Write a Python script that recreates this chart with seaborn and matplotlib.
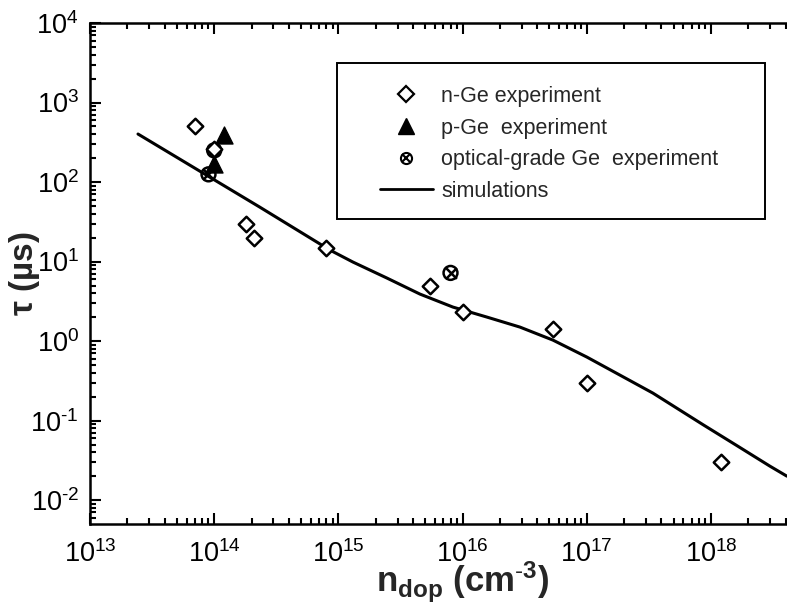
import matplotlib
matplotlib.use("Agg")
import matplotlib.pyplot as plt
import seaborn as sns
import numpy as np
import pandas as pd
from matplotlib.ticker import LogLocator, NullFormatter, FuncFormatter
from matplotlib.legend_handler import HandlerTuple
from matplotlib.patches import Rectangle

# ---- data ----
n_ge_x = [7e13, 1e14, 1.8e14, 2.1e14, 8e14, 5.5e15, 1e16, 5.4e16, 1e17, 1.2e18]
n_ge_y = [500, 260, 30, 20, 15, 5.0, 2.3, 1.4, 0.3, 0.03]

p_ge_x = [1e14, 1.2e14]
p_ge_y = [170, 390]

opt_x = [9e13, 1e14, 8e15]
opt_y = [125, 250, 7.2]

sim_x = [2.435e13, 7.687e13, 2.338e14, 8.557e14, 1.311e15, 2.462e15, 4.54e15, 8.37e15,
         1.572e16, 2.899e16, 5.344e16, 1.004e17, 1.851e17, 3.412e17, 8.62e17,
         1.62e18, 2.985e18, 4.09e18]
sim_y = [401.6, 136.7, 48.2, 13.95, 9.856, 6.202, 3.901, 2.677,
         2.004, 1.5, 1.029, 0.629, 0.3736, 0.2218, 0.0891,
         0.04846, 0.02677, 0.02003]

labels = ["n-Ge experiment", "p-Ge  experiment", "optical-grade Ge  experiment", "simulations"]

sns.set_theme(style="ticks")
plt.rcParams['font.family'] = ['Liberation Sans', 'DejaVu Sans']
plt.rcParams['mathtext.fontset'] = 'custom'
plt.rcParams['mathtext.rm'] = 'Liberation Sans'
plt.rcParams['mathtext.it'] = 'Liberation Sans'
plt.rcParams['mathtext.bf'] = 'Liberation Sans:bold'

fig = plt.figure(figsize=(7.87, 6.04), dpi=100)
ax = fig.add_axes([90/787, 1-524/604, 697/787, 501/604])

sim_df = pd.DataFrame({"x": sim_x, "y": sim_y})
nge = pd.DataFrame({"x": n_ge_x, "y": n_ge_y})
pge = pd.DataFrame({"x": p_ge_x, "y": p_ge_y})
opt = pd.DataFrame({"x": opt_x, "y": opt_y})

sns.lineplot(data=sim_df, x="x", y="y", ax=ax, color="black", lw=2.2, sort=False, zorder=2)

sns.scatterplot(data=opt, x="x", y="y", ax=ax, marker="o", s=100,
                facecolor="none", edgecolor="black", linewidth=1.8, zorder=3)
sns.scatterplot(data=opt, x="x", y="y", ax=ax, marker="x", s=60,
                color="black", linewidth=1.8, zorder=3)
sns.scatterplot(data=pge, x="x", y="y", ax=ax, marker="^", s=150,
                color="black", edgecolor="black", zorder=4)
sns.scatterplot(data=nge, x="x", y="y", ax=ax, marker="D", s=62,
                facecolor="white", edgecolor="black", linewidth=1.8, zorder=5)

ax.set_xscale("log")
ax.set_yscale("log")
ax.set_xlim(1e13, 4.1e18)
ax.set_ylim(10**-2.3, 1e4)

ax.xaxis.set_major_locator(LogLocator(base=10, numticks=20))
ax.xaxis.set_minor_locator(LogLocator(base=10, subs=np.arange(2, 10), numticks=50))
ax.yaxis.set_major_locator(LogLocator(base=10, numticks=20))
ax.yaxis.set_minor_locator(LogLocator(base=10, subs=np.arange(2, 10), numticks=50))
ax.xaxis.set_minor_formatter(NullFormatter())
ax.yaxis.set_minor_formatter(NullFormatter())


def fmt(v, pos):
    e = int(round(np.log10(v)))
    if e < 0:
        return r"$\mathregular{10^{\text{-}%d}}$" % (-e)
    return r"$\mathregular{10^{%d}}$" % e


ax.xaxis.set_major_formatter(FuncFormatter(fmt))
ax.yaxis.set_major_formatter(FuncFormatter(fmt))

ax.tick_params(which="both", direction="in", top=True, right=False, width=1.5,
               labelsize=19.5, colors="black")
ax.tick_params(which="major", length=8)
ax.tick_params(which="minor", length=4)
ax.tick_params(axis="x", which="major", pad=12)
ax.tick_params(axis="y", which="major", pad=8)
for s in ["left", "bottom", "top"]:
    ax.spines[s].set_linewidth(1.8)
    ax.spines[s].set_color("black")
ax.spines["right"].set_visible(False)

ax.set_xlabel(r"n$_{\mathregular{dop}}$ (cm$^{\mathregular{\text{-}3}}$)", fontsize=25,
              fontweight="bold")
ax.xaxis.set_label_coords(0.535, -0.072)
ax.set_ylabel(r"$\mathbf{\tau}$ (µs)", fontsize=24, fontweight="bold")
ax.yaxis.set_label_coords(-0.094, 0.50)
ax.yaxis.label.set_va("center")

# legend frame
ax.add_patch(Rectangle(((337-90)/697, (524-219)/501), (765-337)/697, (219-63)/501,
                       transform=ax.transAxes, fill=False, edgecolor="black",
                       linewidth=1.4, zorder=6))

h_n = plt.Line2D([], [], marker="D", ls="none", mfc="white", mec="black", mew=1.6, ms=8)
h_p = plt.Line2D([], [], marker="^", ls="none", color="black", ms=11)
h_o1 = plt.Line2D([], [], marker="o", ls="none", mfc="none", mec="black", mew=1.5, ms=8)
h_o2 = plt.Line2D([], [], marker="x", ls="none", color="black", mew=1.5, ms=5.5)
h_s = plt.Line2D([], [], color="black", lw=2.0)
leg = ax.legend([h_n, h_p, (h_o1, h_o2), h_s], labels,
                handler_map={tuple: HandlerTuple(ndivide=1)},
                loc="upper left", bbox_to_anchor=((380-90)/697, (524-86)/501), fontsize=15.5,
                frameon=False, borderpad=0, borderaxespad=0,
                handlelength=2.45, handletextpad=0.4, labelspacing=0.49)
leg.set_zorder(7)

fig.savefig("out.png", dpi=100)
